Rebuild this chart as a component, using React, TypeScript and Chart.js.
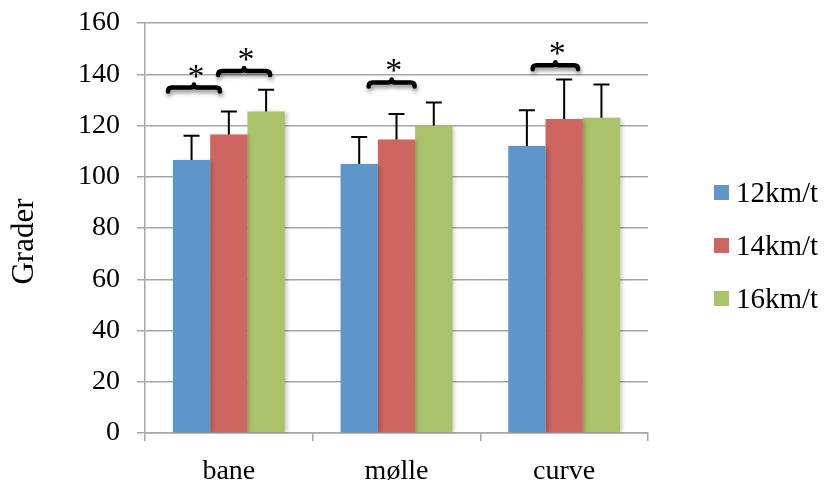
import React, { useEffect, useRef } from "react";
import { Chart, registerables } from "chart.js";

Chart.register(...registerables);

// Categories and series
const categories = ["bane", "mølle", "curve"];
const seriesLabels = ["12km/t", "14km/t", "16km/t"];
const seriesColors = ["#5f96ca", "#cd6560", "#aac36b"];

// Mean angle (grader) per category
const speed12 = [106.5, 105, 112];
const speed14 = [116.5, 114.5, 122.5];
const speed16 = [125.5, 120, 123];

// Standard deviation (upper error bar)
const sd12 = [9.5, 10.5, 14];
const sd14 = [9, 10, 15.5];
const sd16 = [8.5, 9, 13];

// Y axis range and step
const yMin = 0;
const yMax = 160;
const yStep = 20;

// Significance brackets: category index, start/end offset (category units), level (grader)
const bracketCategory = [0, 0, 1, 2];
const bracketFrom = [-0.369, -0.07, -0.172, -0.194];
const bracketTo = [-0.047, 0.252, 0.114, 0.089];
const bracketLevel = [134.8, 141.3, 136.8, 143.5];

const FONT = "'Liberation Serif', 'Times New Roman', serif";

// Soft drop shadow under the bars
const barShadowPlugin = {
  id: "barShadow",
  beforeDatasetsDraw(chart: any) {
    const ctx = chart.ctx;
    ctx.save();
    ctx.shadowColor = "rgba(0,0,0,0.22)";
    ctx.shadowBlur = 4;
    ctx.shadowOffsetX = 2;
    ctx.shadowOffsetY = 1;
  },
  afterDatasetsDraw(chart: any) {
    chart.ctx.restore();
  },
};

const errorBarPlugin = {
  id: "errorBars",
  afterDatasetsDraw(chart: any) {
    const ctx = chart.ctx;
    const yScale = chart.scales.y;
    const sds = [sd12, sd14, sd16];
    ctx.save();
    ctx.strokeStyle = "#000";
    ctx.lineWidth = 2;
    chart.data.datasets.forEach((ds: any, di: number) => {
      const meta = chart.getDatasetMeta(di);
      meta.data.forEach((bar: any, i: number) => {
        const top = yScale.getPixelForValue(ds.data[i] + sds[di][i]);
        ctx.beginPath();
        ctx.moveTo(bar.x, bar.y);
        ctx.lineTo(bar.x, top);
        ctx.moveTo(bar.x - 8, top);
        ctx.lineTo(bar.x + 8, top);
        ctx.stroke();
      });
    });
    ctx.restore();
  },
};

const bracketPlugin = {
  id: "brackets",
  afterDraw(chart: any) {
    const ctx = chart.ctx;
    const xs = chart.scales.x;
    const ys = chart.scales.y;
    for (let k = 0; k < bracketLevel.length; k++) {
      const x1 = xs.getPixelForValue(bracketCategory[k] + bracketFrom[k]);
      const x2 = xs.getPixelForValue(bracketCategory[k] + bracketTo[k]);
      const y = ys.getPixelForValue(bracketLevel[k]);
      const xm = (x1 + x2) / 2;
      ctx.save();
      ctx.shadowColor = "rgba(0,0,0,0.45)";
      ctx.shadowBlur = 4;
      ctx.shadowOffsetX = 1;
      ctx.shadowOffsetY = 3;
      ctx.strokeStyle = "#000";
      ctx.lineWidth = 4.5;
      ctx.lineCap = "round";
      ctx.lineJoin = "round";
      ctx.beginPath();
      ctx.moveTo(x1 + 1, y + 4);
      ctx.quadraticCurveTo(x1 + 1, y, x1 + 5, y);
      ctx.lineTo(xm - 4, y);
      ctx.quadraticCurveTo(xm, y, xm, y - 3);
      ctx.quadraticCurveTo(xm, y, xm + 4, y);
      ctx.lineTo(x2 - 5, y);
      ctx.quadraticCurveTo(x2 - 1, y, x2 - 1, y + 4);
      ctx.stroke();
      ctx.restore();

      ctx.save();
      ctx.fillStyle = "#000";
      ctx.font = `34px ${FONT}`;
      ctx.textAlign = "center";
      ctx.textBaseline = "alphabetic";
      ctx.fillText("*", xm + 2, y - 1);
      ctx.restore();
    }
  },
};

const sideTextPlugin = {
  id: "sideText",
  afterDraw(chart: any) {
    const ctx = chart.ctx;
    // Legend on the right
    ctx.save();
    ctx.font = `29px ${FONT}`;
    ctx.textAlign = "left";
    ctx.textBaseline = "middle";
    seriesLabels.forEach((label, i) => {
      const cy = 192 + i * 53;
      ctx.fillStyle = seriesColors[i];
      ctx.fillRect(714, cy - 7, 15, 15);
      ctx.fillStyle = "#000";
      ctx.fillText(label, 736, cy + 2);
    });
    ctx.restore();

    // Y axis title
    ctx.save();
    ctx.font = `31px ${FONT}`;
    ctx.fillStyle = "#000";
    ctx.textAlign = "center";
    ctx.textBaseline = "alphabetic";
    ctx.translate(33, 241.5);
    ctx.rotate(-Math.PI / 2);
    ctx.fillText("Grader", 0, 0);
    ctx.restore();
  },
};

export default function App() {
  const canvasRef = useRef<HTMLCanvasElement | null>(null);

  useEffect(() => {
    if (!canvasRef.current) return;
    const seriesData = [speed12, speed14, speed16];
    const chart = new Chart(canvasRef.current, {
      type: "bar",
      data: {
        labels: categories,
        datasets: seriesLabels.map((label, i) => ({
          label,
          data: seriesData[i],
          backgroundColor: seriesColors[i],
          borderWidth: 0,
          categoryPercentage: 0.667,
          barPercentage: 1.0,
        })),
      },
      options: {
        animation: false,
        responsive: false,
        maintainAspectRatio: false,
        layout: { padding: { top: 23, right: 180, left: 0, bottom: 0 } },
        plugins: {
          legend: { display: false },
          tooltip: { enabled: false },
          title: { display: false },
        },
        scales: {
          x: {
            afterFit: (scale: any) => {
              scale.height = 48;
            },
            grid: {
              offset: true,
              drawOnChartArea: false,
              drawTicks: true,
              tickLength: 8,
              color: "#a6a6a6",
              lineWidth: 1.5,
            },
            border: { display: true, color: "#a6a6a6", width: 1.5 },
            ticks: {
              color: "#000",
              padding: 14,
              font: { family: FONT, size: 28 },
            },
          },
          y: {
            min: yMin,
            max: yMax,
            afterFit: (scale: any) => {
              scale.width = 145;
              scale.paddingTop = 0;
              scale.paddingBottom = 0;
            },
            ticks: {
              stepSize: yStep,
              color: "#000",
              padding: 17,
              font: { family: FONT, size: 28, lineHeight: 1 },
            },
            grid: {
              drawTicks: true,
              tickLength: 8,
              color: "#a6a6a6",
              lineWidth: 1.5,
            },
            border: { display: true, color: "#a6a6a6", width: 1.5 },
          },
        },
      },
      plugins: [barShadowPlugin, errorBarPlugin, bracketPlugin, sideTextPlugin],
    });
    return () => chart.destroy();
  }, []);

  return (
    <div style={{ position: "absolute", left: 0, top: 0, width: 828, height: 481, background: "#fff" }}>
      <canvas ref={canvasRef} width={828} height={481} style={{ display: "block" }} />
    </div>
  );
}
